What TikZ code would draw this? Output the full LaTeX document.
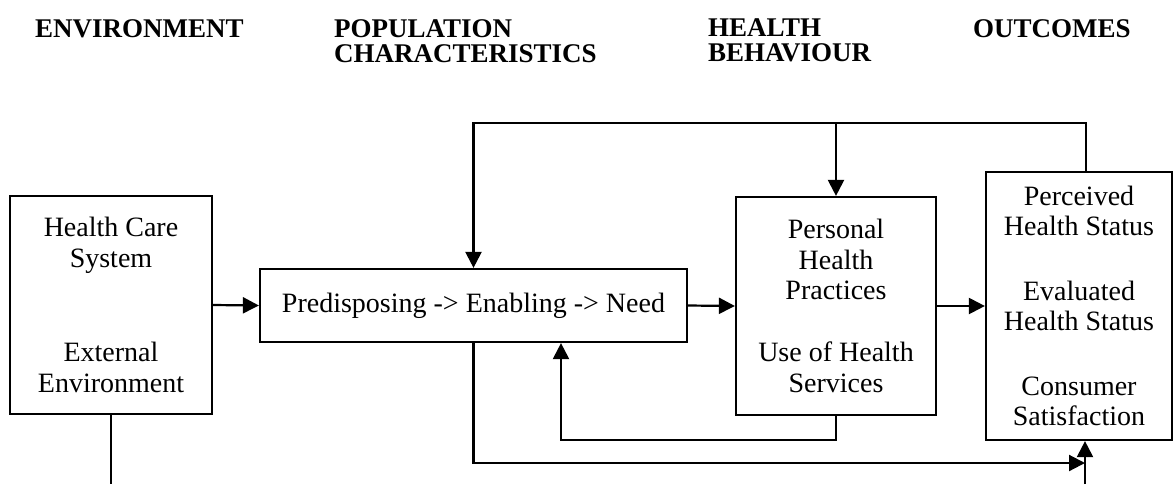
\documentclass[tikz,border=0pt]{standalone}
\usepackage{fontspec}
\setmainfont{Liberation Serif}
\usetikzlibrary{arrows.meta}

\begin{document}
\begin{tikzpicture}[x=0.5pt,y=-0.5pt,line width=1.1pt,
		>={Triangle[length=8pt,width=8pt]},
		head/.style={anchor=north west,inner sep=0pt,align=left,
			font=\fontsize{13.5}{12.5}\selectfont\bfseries},
		stage/.style={draw,align=center,inner sep=0pt,
			font=\fontsize{14}{15.2}\selectfont}]

	\useasboundingbox[fill=white] (0,0) rectangle (1175,484);

	% column titles
	\node [head] (head-env) at (34,19) {ENVIRONMENT};
	\node [head] (head-pop) at (333,19) {POPULATION\\CHARACTERISTICS};
	\node [head] (head-beh) at (707,18) {HEALTH\\BEHAVIOUR};
	\node [head] (head-out) at (972,19) {OUTCOMES};

	% boxes
	\node [stage, minimum width=101pt, minimum height=109pt] (env) at (111,305)
		{Health Care\\System\\[32pt]External\\Environment};
	\node [stage, minimum width=213.5pt, minimum height=36.5pt] (pop) at (473.5,305.5)
		{Predisposing -> Enabling -> Need};
	\node [stage, minimum width=100pt, minimum height=109pt] (beh) at (836,306)
		{Personal\\Health\\Practices\\[16pt]Use of Health\\Services};
	\node [stage, minimum width=93pt, minimum height=134pt] (out) at (1079,306)
		{Perceived\\Health Status\\[17pt]Evaluated\\Health Status\\[17pt]Consumer\\Satisfaction};

	\coordinate (top-r) at (1086,123);
	\coordinate (fbk) at (561,440);
	\coordinate (low) at (1085,463);
	\coordinate (env-end) at (111,484);
	\coordinate (out-end) at (1085,484);

	% main chain
	\draw [->] (env.east) -- (pop.west);
	\draw [->] (pop.east) -- (beh.west);
	\draw [->] (beh.east) -- (out.west);

	% feedback loops
	\draw [->] (top-r |- out.north) -- (top-r) -| (pop.north);
	\draw [->] (beh.north |- top-r) -- (beh.north);
	\draw [->] (beh.south) |- (fbk) -- (fbk |- pop.south);
	\draw [->] (pop.south) |- (low);
	\draw (env.south) -- (env-end);
	\draw [->] (out-end) -- (out-end |- out.south);
\end{tikzpicture}
\end{document}
